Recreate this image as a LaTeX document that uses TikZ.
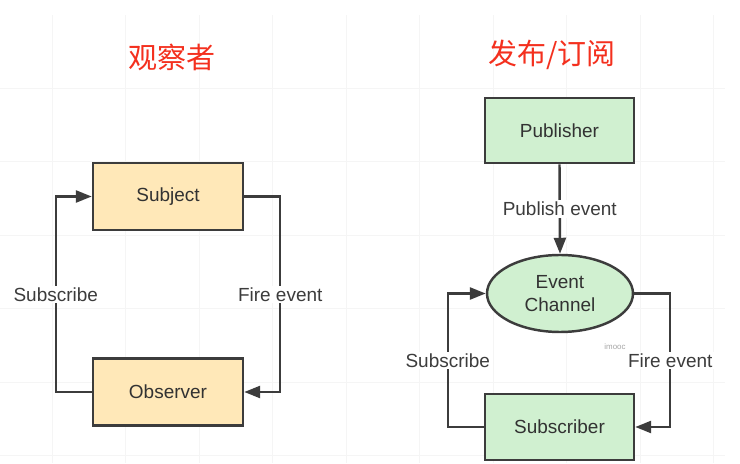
\documentclass[tikz,border=0pt]{standalone}
\usepackage{fontspec}
\setmainfont{Liberation Sans}
\newfontfamily\cjk{Noto Sans CJK SC}
\usetikzlibrary{shapes.geometric,arrows.meta}
\definecolor{titlered}{RGB}{244,48,30}
\definecolor{boxline}{RGB}{60,60,60}
\definecolor{txtgray}{RGB}{50,50,50}
\definecolor{cream}{RGB}{255,232,184}
\definecolor{mint}{RGB}{208,240,208}
\definecolor{gridgray}{RGB}{245,245,245}
\begin{document}
\begin{tikzpicture}[
  font=\fontsize{10.8}{12.6}\selectfont, text=txtgray,
  heading/.style={titlered, font=\cjk\fontsize{16.5}{18}\selectfont},
  obsbox/.style={draw=boxline, line width=1.4pt, fill=cream, minimum width=3cm, minimum height=1.34cm},
  psbox/.style={draw=boxline, line width=1.4pt, fill=mint, minimum width=2.98cm, minimum height=1.31cm},
  chan/.style={ellipse, draw=boxline, line width=1.4pt, fill=mint, minimum width=2.92cm, minimum height=1.54cm, align=center, inner sep=0pt},
  link/.style={boxline, line width=1.4pt, -{Triangle[length=0.32cm, width=0.24cm]}},
  lbl/.style={fill=white, inner sep=1pt}]
% page and faint grid
\fill[white] (0,0) rectangle (14.8,9.26);
\useasboundingbox (0,0) rectangle (14.8,9.26);
\foreach \gx in {0,...,9}
  \draw[gridgray, line width=0.5pt] ({1.04+1.47*\gx},0) -- ({1.04+1.47*\gx},8.96);
\foreach \gy in {0,...,5}
  \draw[gridgray, line width=0.5pt] (0,{7.5-1.47*\gy}) -- (14.5,{7.5-1.47*\gy});
% titles
\node[heading] (obstitle) at (3.44,8.12) {观察者};
\node[heading] (pstitle) at (11.04,8.16) {发布/订阅};
% observer pattern
\node[obsbox] (subject) at (3.36,5.33) {Subject};
\node[obsbox] (observer) at (3.36,1.42) {Observer};
\draw[link] (observer.west) -- ++(-0.72,0) |- node[lbl, pos=0.25] {Subscribe} (subject.west);
\draw[link] (subject.east) -- ++(0.72,0) |- node[lbl, pos=0.25] {Fire event} (observer.east);
% publish / subscribe
\node[psbox] (publisher) at (11.19,6.65) {Publisher};
\node[chan] (channel) at (11.2,3.39) {Event\\Channel};
\node[psbox] (subscriber) at (11.19,0.72) {Subscriber};
\draw[link] (publisher.south) -- node[lbl] {Publish event} (channel.north);
\draw[link] (subscriber.west) -- ++(-0.72,0) |- node[lbl, pos=0.25] {Subscribe} (channel.west);
\draw[link] (channel.east) -- ++(0.72,0) |- node[lbl, pos=0.25] {Fire event} (subscriber.east);
% watermark
\node[gray!70, font=\fontsize{4.5}{5}\selectfont] (mark) at (12.3,2.32) {imooc};
\end{tikzpicture}
\end{document}
